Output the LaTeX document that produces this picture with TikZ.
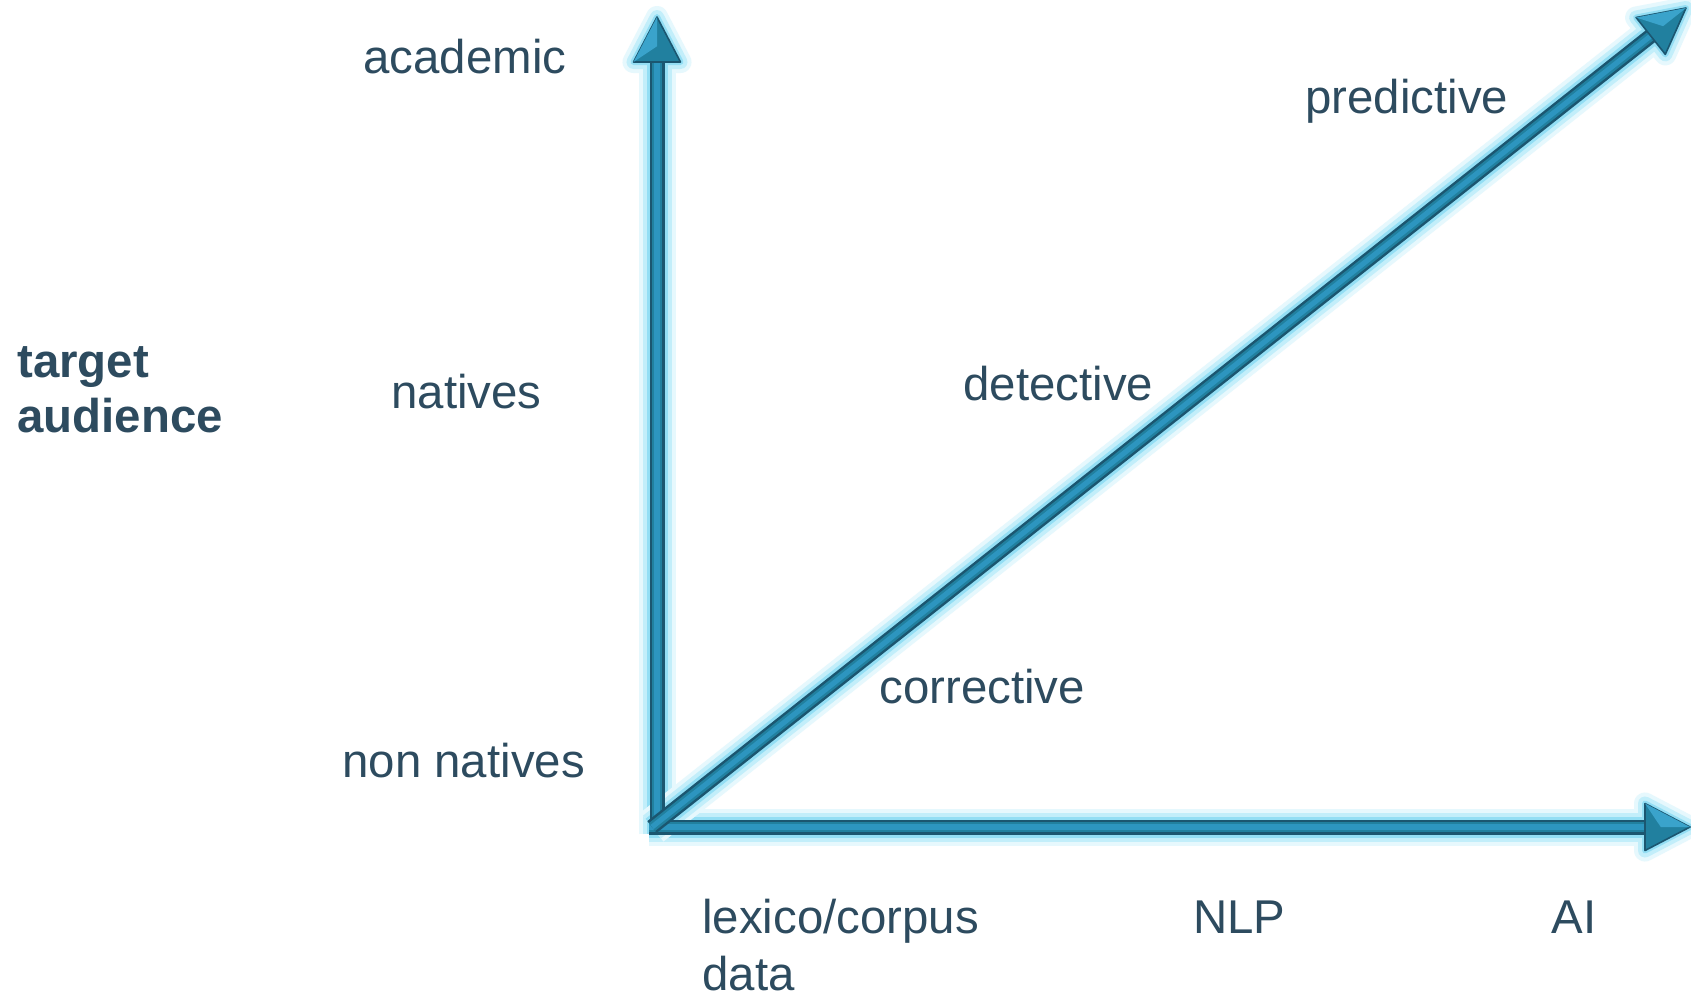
\documentclass[tikz,border=0pt]{standalone}
\usepackage{fontspec}
\setmainfont{Liberation Sans}
\usetikzlibrary{calc}
\definecolor{txt}{HTML}{2D4B5F}
\definecolor{glowA}{HTML}{E6F8FD}
\definecolor{glowB}{HTML}{C2EEFA}
\definecolor{glowC}{HTML}{93DEF4}
\definecolor{edgec}{HTML}{1B5670}
\definecolor{midc}{HTML}{21809F}
\definecolor{hic}{HTML}{2D95BF}
\definecolor{facetc}{HTML}{3AA3CB}
\tikzset{
  lbl/.style={font=\fontsize{23.7}{28.4}\selectfont, text=txt, inner sep=0pt, anchor=base west},
  boldlbl/.style={lbl, font=\fontsize{23.7}{28.4}\selectfont\bfseries}
}
% #1 start, #2 tip
\newcommand\arrowglow[2]{%
  \foreach \w/\c in {22/glowA,14/glowB,6/glowC}{%
    \draw[line width=7.5pt+\w*0.5pt, \c, line join=round] (#1) -- ($(#2)!22.5pt!(#1)$);
    \filldraw[\c, line width=\w*0.5pt, line join=round]
      ($($(#2)!22.5pt!(#1)$)!11.75pt!90:(#2)$) -- (#2) -- ($($(#2)!22.5pt!(#1)$)!11.75pt!-90:(#2)$) -- cycle;
  }%
}
\newcommand\arrowbody[2]{%
  \draw[edgec, line width=7.5pt] (#1) -- ($(#2)!20pt!(#1)$);
  \draw[midc, line width=5pt] (#1) -- ($(#2)!20pt!(#1)$);
  \draw[hic, line width=2.6pt] (#1) -- ($(#2)!20pt!(#1)$);
  \filldraw[fill=midc, draw=edgec, line width=0.8pt, line join=round]
    ($($(#2)!22.5pt!(#1)$)!11.75pt!90:(#2)$) -- (#2) -- ($($(#2)!22.5pt!(#1)$)!11.75pt!-90:(#2)$) -- cycle;
  \fill[facetc]
    ($($(#2)!22.5pt!(#1)$)!11.75pt!90:(#2)$) -- (#2) -- ($($(#2)!22.5pt!(#1)$)!0.35!(#2)$) -- cycle;
}
\begin{document}
\begin{tikzpicture}[x=0.5pt,y=-0.5pt]
\useasboundingbox[fill=white] (0,0) rectangle (1691,1002);
% axis end points
\coordinate (ov) at (657,834);
\coordinate (oh) at (649,827);
\coordinate (od) at (652,827);
\coordinate (tv) at (657,17);
\coordinate (th) at (1690,827);
\coordinate (td) at (1686,8);
% glows
\arrowglow{ov}{tv}
\arrowglow{oh}{th}
\arrowglow{od}{td}
% arrows
\arrowbody{ov}{tv}
\arrowbody{oh}{th}
\arrowbody{od}{td}
% labels
\node[lbl] (academic) at (363,73) {academic};
\node[lbl] (natives) at (391,408) {natives};
\node[lbl] (nonnatives) at (342,777) {non natives};
\node[boldlbl] (target) at (17,377) {target};
\node[boldlbl] (audience) at (17,432) {audience};
\node[lbl] (predictive) at (1305,113) {predictive};
\node[lbl] (detective) at (963,400) {detective};
\node[lbl] (corrective) at (879,703) {corrective};
\node[lbl] (lexico) at (702,933) {lexico/corpus};
\node[lbl] (data) at (702,990) {data};
\node[lbl] (nlp) at (1193,933) {NLP};
\node[lbl] (ai) at (1551,933) {AI};
\end{tikzpicture}
\end{document}
